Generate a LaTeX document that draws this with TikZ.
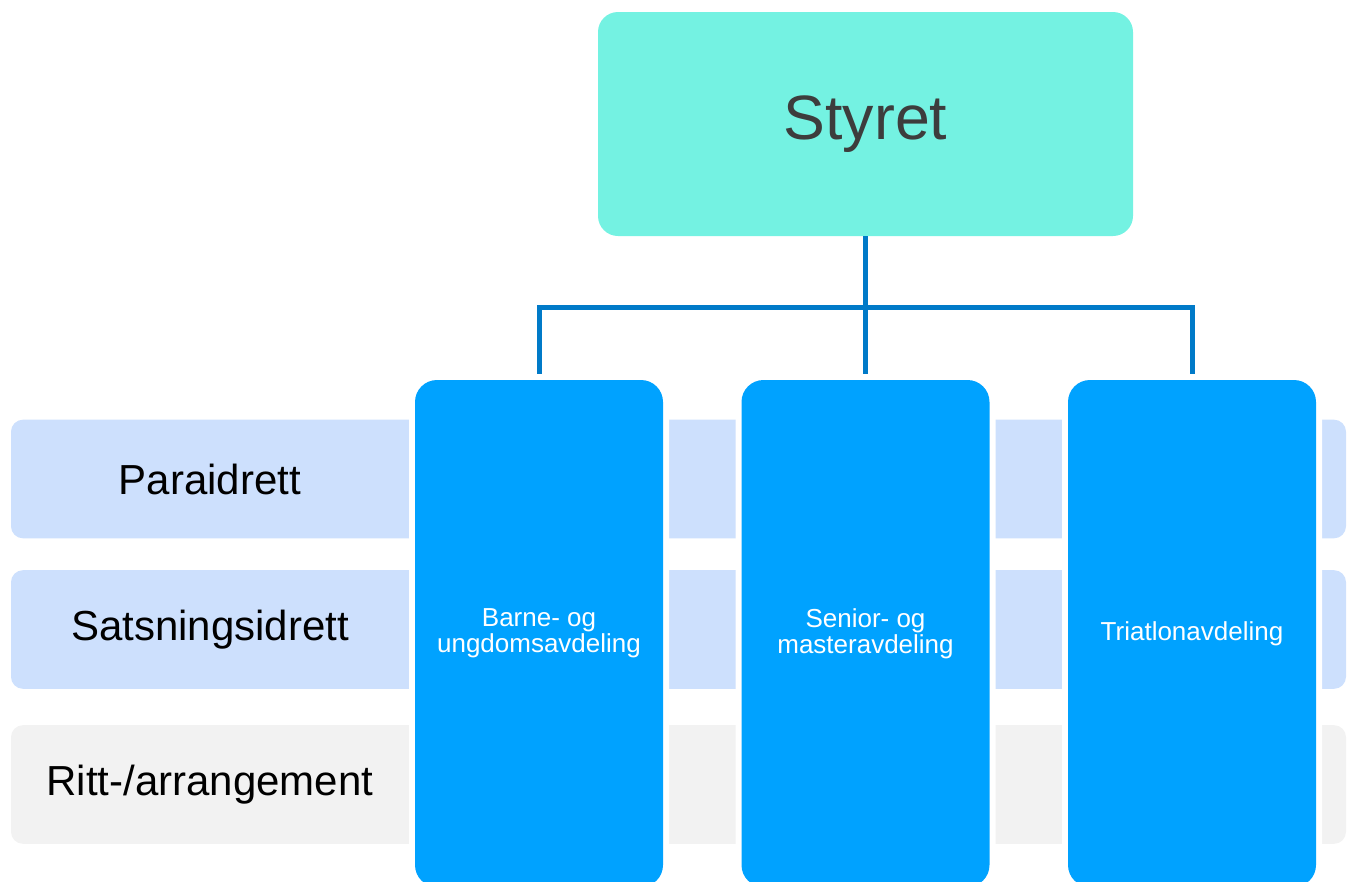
\documentclass[tikz,border=0pt]{standalone}
\usepackage{fontspec}
\setmainfont{Liberation Sans}
\definecolor{topfill}{RGB}{116,242,226}
\definecolor{toptext}{RGB}{61,61,61}
\definecolor{deptfill}{RGB}{0,162,255}
\definecolor{bandblue}{RGB}{205,224,253}
\definecolor{bandgray}{RGB}{242,242,242}
\definecolor{connblue}{RGB}{0,122,200}
\begin{document}
\begin{tikzpicture}[x=0.75pt,y=-0.75pt,
  topbox/.style={rectangle,rounded corners=15pt,fill=topfill,text=toptext,
    minimum width=401.25pt,minimum height=168pt,inner sep=0pt,
    font=\fontsize{47}{56}\selectfont},
  band/.style={rectangle,rounded corners=9pt,minimum width=1001.25pt,
    minimum height=89pt,inner sep=0pt},
  bandlabel/.style={inner sep=0pt,font=\fontsize{31.5}{38}\selectfont,text=black},
  deptbox/.style={rectangle,rounded corners=16.5pt,fill=deptfill,text=white,
    minimum width=186pt,minimum height=380.25pt,inner sep=0pt,align=center,
    font=\fontsize{19.5}{19.5}\selectfont,
    preaction={draw=white,line width=9pt}},
  conn/.style={draw=connblue,line width=3.75pt}]
\useasboundingbox (0,0) rectangle (1350,882);
% bands
\node[band,fill=bandblue] (b1) at (678.5,479) {};
\node[band,fill=bandblue] (b2) at (678.5,629.5) {};
\node[band,fill=bandgray] (b3) at (678.5,784.5) {};
\node[bandlabel] (l1) at (210,479) {Paraidrett};
\node[bandlabel] (l2) at (210,630) {Satsningsidrett};
\node[bandlabel] (l3) at (210,785) {Ritt-/arrangement};
% top
\node[topbox] (styret) at (865.5,124) {Styret};
\coordinate (bus) at (865.5,307);
% connectors (drawn before departments so halo cuts them)
\coordinate (sentop) at (865.5,380);
\coordinate (bartop) at (539,380);
\coordinate (tritop) at (1192,380);
\draw[conn] (styret.south) -- (sentop);
\draw[conn] (bartop) |- (bus) -| (tritop);
% departments
\node[deptbox] (barne) at (539,633.5) {Barne- og\\ungdomsavdeling};
\node[deptbox] (senior) at (865.5,633.5) {Senior- og\\masteravdeling};
\node[deptbox] (triatlon) at (1192,633.5) {Triatlonavdeling};
\end{tikzpicture}
\end{document}
